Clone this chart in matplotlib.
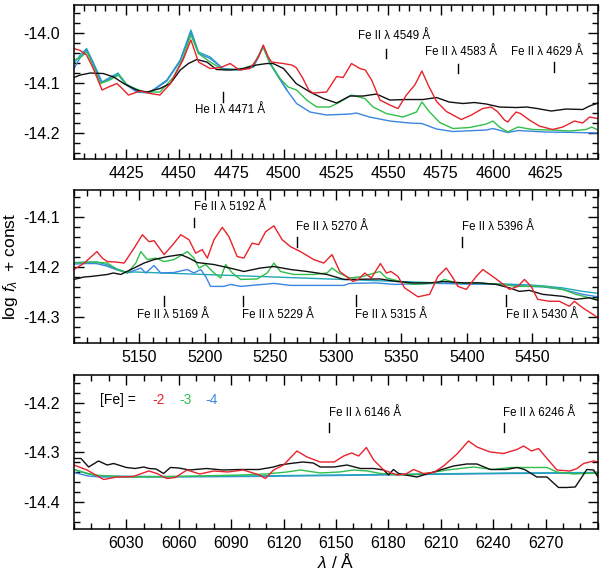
import matplotlib
matplotlib.use("Agg")
import matplotlib.pyplot as plt
from matplotlib.ticker import MultipleLocator

plt.rcParams['font.family'] = ['Liberation Sans', 'DejaVu Sans']
plt.rcParams['mathtext.fontset'] = 'custom'
plt.rcParams['mathtext.rm'] = 'Liberation Sans'
plt.rcParams['mathtext.it'] = 'Liberation Sans:italic'
plt.rcParams['axes.unicode_minus'] = False

RED = '#e8232b'
GREEN = '#2fbf4a'
BLUE = '#3a86e0'
TEAL = '#1fa9b8'
BLACK = '#111111'

# ---------------- panel 1 (4400 - 4650) ----------------
p1_red_wl = [4400, 4403, 4406, 4409, 4413.4, 4417, 4420.5, 4423, 4426, 4431.6, 4436.4, 4441, 4446,
             4452, 4455.8, 4459.4, 4465, 4470, 4474.5, 4479, 4484, 4488, 4490.3, 4492.7, 4494.3,
             4499.9, 4503.9, 4506, 4509, 4512, 4514, 4520.5, 4525.3, 4528.4, 4532.4, 4536.4, 4539,
             4542, 4546, 4550.7, 4554.6, 4558.6, 4562.6, 4566, 4569, 4573, 4577.7, 4584.8, 4589.6,
             4595, 4599, 4602, 4605.4, 4607, 4609, 4611, 4613, 4617.3, 4622, 4628.4, 4633.2,
             4638.8, 4642.7, 4646, 4650]
p1_red = [-14.032, -14.036, -14.045, -14.07, -14.115, -14.108, -14.102, -14.112, -14.125, -14.117,
          -14.122, -14.125, -14.102, -14.055, -14.015, -14.059, -14.072, -14.07, -14.062, -14.075,
          -14.072, -14.049, -14.025, -14.049, -14.059, -14.062, -14.065, -14.07, -14.09, -14.115,
          -14.121, -14.119, -14.088, -14.09, -14.062, -14.072, -14.075, -14.095, -14.135, -14.145,
          -14.152, -14.125, -14.105, -14.077, -14.105, -14.138, -14.158, -14.174, -14.165, -14.152,
          -14.149, -14.158, -14.175, -14.179, -14.168, -14.159, -14.162, -14.175, -14.187, -14.194,
          -14.189, -14.177, -14.181, -14.169, -14.172]

p1_black_wl = [4400, 4403, 4407.8, 4414, 4419, 4423.7, 4430, 4434.8, 4441, 4446, 4450.7, 4454.6,
               4458.6, 4463.4, 4468, 4474.5, 4480.8, 4487, 4492, 4495, 4500, 4506, 4512.6, 4519,
               4525.3, 4531.6, 4538, 4544.3, 4550.7, 4558.6, 4566.5, 4573, 4579, 4585.6, 4591,
               4596.7, 4603, 4611, 4616, 4621, 4627.7, 4634.8, 4642.7, 4646, 4650]
p1_black = [-14.09, -14.085, -14.081, -14.082, -14.089, -14.102, -14.115, -14.119, -14.112, -14.102,
            -14.075, -14.062, -14.054, -14.059, -14.074, -14.075, -14.072, -14.065, -14.062, -14.062,
            -14.072, -14.102, -14.119, -14.132, -14.141, -14.127, -14.127, -14.123, -14.135, -14.134,
            -14.134, -14.13, -14.139, -14.142, -14.14, -14.143, -14.149, -14.15, -14.149, -14.152,
            -14.157, -14.153, -14.154, -14.147, -14.141]

p1_green_wl = [4400, 4403, 4406.2, 4409, 4412.6, 4417, 4421.3, 4425.3, 4433.2, 4441, 4447.5, 4452.2,
               4455.8, 4459.4, 4465, 4471, 4479, 4485.6, 4490.3, 4493.5, 4498.3, 4502.2, 4506.2, 4511,
               4515.8, 4522, 4526.9, 4532.4, 4538.8, 4542.7, 4549, 4557, 4563.4, 4566, 4569.7,
               4574.5, 4580.8, 4588.8, 4596.7, 4599.9, 4603, 4607, 4611.8, 4618.9, 4628, 4636.4,
               4644.3, 4647, 4650]
p1_green = [-14.055, -14.05, -14.039, -14.065, -14.102, -14.095, -14.085, -14.105, -14.119, -14.119,
            -14.089, -14.049, -14.005, -14.042, -14.059, -14.074, -14.074, -14.065, -14.029, -14.062,
            -14.092, -14.109, -14.115, -14.135, -14.149, -14.149, -14.139, -14.125, -14.132, -14.149,
            -14.162, -14.169, -14.159, -14.139, -14.159, -14.18, -14.192, -14.19, -14.183, -14.177,
            -14.189, -14.199, -14.189, -14.194, -14.195, -14.197, -14.194, -14.189, -14.195]

p1_blue_wl = [4400, 4403, 4406, 4409, 4413, 4417, 4421, 4425, 4430, 4436, 4444.3, 4450.7, 4455.8,
              4459.4, 4465, 4471, 4479, 4485.6, 4490.3, 4493.5, 4497.5, 4501.5, 4506.2, 4512.6,
              4520.5, 4531.6, 4534.8, 4541, 4550.7, 4560, 4566, 4573, 4580.8, 4596.7, 4599.9, 4607,
              4612, 4625, 4640, 4650]
p1_blue = [-14.072, -14.05, -14.035, -14.06, -14.1, -14.093, -14.084, -14.105, -14.119, -14.121,
           -14.097, -14.057, -14.0, -14.042, -14.052, -14.072, -14.075, -14.069, -14.029, -14.062,
           -14.089, -14.115, -14.142, -14.159, -14.165, -14.163, -14.161, -14.169, -14.177, -14.181,
           -14.182, -14.193, -14.198, -14.195, -14.192, -14.2, -14.196, -14.199, -14.2, -14.201]

p1_teal_wl = [4400, 4403, 4406, 4409, 4413.4, 4417, 4421, 4425, 4430, 4436, 4444.3, 4450.7, 4455.8,
              4459.4, 4465, 4471, 4479, 4485.6, 4490.3, 4493.5, 4497.5, 4501.5]
p1_teal = [-14.062, -14.045, -14.032, -14.058, -14.099, -14.09, -14.081, -14.103, -14.118, -14.12,
           -14.095, -14.055, -13.995, -14.039, -14.049, -14.072, -14.075, -14.069, -14.027, -14.06,
           -14.087, -14.114]

# ---------------- panel 2 (5100 - 5500) ----------------
p2_red_wl = [5100, 5107.8, 5117.5, 5122, 5125.5, 5132, 5138.3, 5145.9, 5152.2, 5157.3, 5161.1, 5168.8,
             5176.4, 5181.5, 5187.8, 5192.9, 5197.9, 5201.8, 5206.9, 5213.2, 5218.3, 5224.6, 5229.7,
             5236, 5241, 5246.3, 5252.6, 5258.9, 5265.3, 5272.9, 5283, 5290.7, 5297, 5302.9, 5308,
             5313, 5317, 5322, 5327, 5333.9, 5338.5, 5342, 5347.3, 5352.4, 5362.6, 5371.5, 5377.8,
             5384.2, 5389.3, 5393.1, 5399.5, 5407.1, 5412.1, 5419.7, 5424.8, 5432.5, 5438.8, 5443.9,
             5449, 5454, 5463, 5470.5, 5478.2, 5482, 5488.3, 5496, 5500]
p2_red = [-14.205, -14.192, -14.169, -14.183, -14.189, -14.19, -14.192, -14.162, -14.135, -14.149,
          -14.147, -14.175, -14.152, -14.135, -14.145, -14.172, -14.165, -14.182, -14.145, -14.12,
          -14.139, -14.179, -14.182, -14.152, -14.155, -14.129, -14.117, -14.145, -14.159, -14.169,
          -14.185, -14.192, -14.175, -14.209, -14.219, -14.229, -14.225, -14.212, -14.222, -14.193,
          -14.212, -14.209, -14.219, -14.242, -14.26, -14.255, -14.219, -14.202, -14.222, -14.239,
          -14.245, -14.219, -14.205, -14.219, -14.229, -14.245, -14.239, -14.225, -14.239, -14.265,
          -14.269, -14.269, -14.279, -14.269, -14.282, -14.295, -14.302]

p2_black_wl = [5100, 5107.8, 5113, 5125.5, 5130, 5135.7, 5145.9, 5153.5, 5161.1, 5171.3, 5181.5,
               5187.8, 5194.1, 5206.9, 5222.1, 5229.7, 5242.4, 5252.6, 5265.3, 5278, 5293.2, 5306,
               5310.5, 5333.4, 5346, 5359, 5371.5, 5381.7, 5397, 5409.7, 5422.3, 5432.5, 5440,
               5447.6, 5457.8, 5473, 5483.2, 5493.4, 5500]
p2_black = [-14.225, -14.22, -14.219, -14.215, -14.212, -14.215, -14.202, -14.192, -14.185, -14.179,
            -14.175, -14.182, -14.191, -14.195, -14.204, -14.209, -14.202, -14.199, -14.205, -14.209,
            -14.215, -14.225, -14.225, -14.224, -14.229, -14.232, -14.232, -14.229, -14.232, -14.232,
            -14.235, -14.242, -14.249, -14.247, -14.255, -14.259, -14.265, -14.262, -14.267]

p2_green_wl = [5100, 5115, 5125.5, 5133, 5140.8, 5147.2, 5151, 5156, 5162.4, 5168.8, 5176.4, 5186.5,
               5191.6, 5195.4, 5200.5, 5206.9, 5212, 5215.8, 5220.9, 5227.2, 5239.9, 5247.5, 5252.6,
               5257.7, 5267.8, 5283, 5293.2, 5297, 5302.1, 5310.5, 5320.7, 5333.4, 5338.5, 5346,
               5359, 5376.8, 5382.9, 5391.8, 5407.1, 5427.4, 5437.5, 5457.8, 5473, 5483.2, 5493.4,
               5500]
p2_green = [-14.192, -14.19, -14.192, -14.205, -14.212, -14.192, -14.169, -14.185, -14.182, -14.189,
            -14.185, -14.169, -14.182, -14.202, -14.195, -14.212, -14.222, -14.195, -14.212, -14.225,
            -14.224, -14.212, -14.192, -14.209, -14.215, -14.215, -14.212, -14.202, -14.212, -14.222,
            -14.219, -14.209, -14.222, -14.227, -14.235, -14.232, -14.225, -14.232, -14.232, -14.235,
            -14.239, -14.239, -14.245, -14.255, -14.262, -14.265]

p2_blue_wl = [5100, 5110, 5117, 5125, 5133, 5140.8, 5146, 5151, 5154.8, 5161.1, 5166.2, 5176.4,
              5186.5, 5191.6, 5196.7, 5200.5, 5204.3, 5214.5, 5219.6, 5227.2, 5252.6, 5265.3, 5306,
              5310.5, 5330, 5345, 5376, 5427, 5447, 5457.8, 5473, 5488.3, 5500]
p2_blue = [-14.194, -14.193, -14.193, -14.198, -14.206, -14.212, -14.207, -14.202, -14.212, -14.197,
           -14.212, -14.211, -14.205, -14.212, -14.205, -14.219, -14.239, -14.239, -14.235, -14.239,
           -14.233, -14.237, -14.237, -14.233, -14.232, -14.235, -14.233, -14.235, -14.239, -14.24,
           -14.245, -14.255, -14.26]

p2_teal_wl = [5100, 5110, 5117, 5125, 5133, 5140.8, 5146, 5400, 5427, 5447, 5457.8, 5473, 5488.3, 5500]
p2_teal = [-14.191, -14.19, -14.19, -14.195, -14.204, -14.211, -14.21, -14.234, -14.234, -14.236,
           -14.238, -14.242, -14.249, -14.253]

# ---------------- panel 3 (6000 - 6300) ----------------
p3_red_wl = [6000, 6007.4, 6017, 6024.6, 6034, 6042.8, 6047.5, 6053.2, 6058, 6064.7, 6072, 6080,
             6088, 6097, 6106, 6109.6, 6114.3, 6120, 6127.6, 6133.4, 6141, 6149, 6154.4, 6159, 6163,
             6167.4, 6171.6, 6177.3, 6184.9, 6190, 6194.5, 6200, 6206, 6211.6, 6219.3, 6225.9,
             6230.7, 6238.3, 6246, 6253.6, 6257.4, 6262, 6266, 6270.8, 6276.5, 6284, 6288,
             6291.8, 6297.5, 6300]
p3_red = [-14.325, -14.335, -14.354, -14.349, -14.348, -14.337, -14.342, -14.352, -14.35, -14.335,
          -14.343, -14.337, -14.339, -14.335, -14.345, -14.352, -14.335, -14.325, -14.297, -14.309,
          -14.319, -14.319, -14.307, -14.301, -14.307, -14.29, -14.315, -14.335, -14.345, -14.343,
          -14.334, -14.342, -14.34, -14.327, -14.303, -14.277, -14.289, -14.299, -14.302, -14.294,
          -14.287, -14.297, -14.292, -14.312, -14.335, -14.337, -14.332, -14.322, -14.317, -14.319]

p3_black_wl = [6000, 6004, 6008.4, 6014, 6019, 6022.7, 6030, 6035, 6040, 6043, 6047, 6051.3, 6055.2,
               6060, 6066, 6076, 6085, 6095, 6106, 6114.3, 6118, 6123.9, 6131, 6137, 6141, 6149,
               6156.3, 6164, 6171.6, 6177.3, 6180.1, 6182.9, 6185.8, 6190, 6196.3, 6202, 6207.8,
               6217.3, 6224.9, 6230.7, 6238.3, 6247.8, 6253.6, 6258, 6265, 6270.8, 6277.4, 6282,
               6287, 6290.8, 6293.6, 6297.5, 6300]
p3_black = [-14.312, -14.312, -14.329, -14.317, -14.325, -14.322, -14.33, -14.332, -14.329, -14.332,
            -14.333, -14.342, -14.33, -14.331, -14.335, -14.332, -14.335, -14.334, -14.334, -14.329,
            -14.325, -14.322, -14.319, -14.321, -14.329, -14.329, -14.325, -14.332, -14.332, -14.335,
            -14.345, -14.334, -14.342, -14.345, -14.349, -14.343, -14.337, -14.327, -14.323, -14.323,
            -14.334, -14.334, -14.33, -14.334, -14.349, -14.349, -14.37, -14.37, -14.369, -14.349,
            -14.334, -14.335, -14.349]

p3_green_wl = [6000, 6011.3, 6030, 6060, 6095, 6110, 6122, 6129.6, 6141, 6152, 6160, 6168, 6175.4,
               6187, 6200, 6213.5, 6228.8, 6240, 6249.8, 6260, 6270.8, 6276.5, 6286, 6300]
p3_green = [-14.334, -14.345, -14.349, -14.348, -14.345, -14.343, -14.339, -14.335, -14.341, -14.339,
            -14.335, -14.337, -14.342, -14.345, -14.343, -14.335, -14.329, -14.334, -14.33, -14.33,
            -14.33, -14.339, -14.343, -14.341]

p3_blue_wl = [6000, 6008, 6015, 6050, 6100, 6150, 6200, 6250, 6300]
p3_blue = [-14.34, -14.347, -14.349, -14.349, -14.348, -14.346, -14.344, -14.342, -14.341]

p3_teal_wl = [6000, 6008, 6015, 6050, 6100, 6150, 6200, 6250, 6300]
p3_teal = [-14.334, -14.343, -14.347, -14.348, -14.347, -14.345, -14.343, -14.341, -14.34]

# line identifications: (wavelength, label, tick bottom, tick top, text x, text y)
p1_marks = [(4471, 'He I λ 4471 Å', -14.139, -14.119, 4474.5, -14.155),
            (4549, 'Fe II λ 4549 Å', -14.050, -14.032, 4552.5, -14.007),
            (4583, 'Fe II λ 4583 Å', -14.080, -14.062, 4584.5, -14.039),
            (4629, 'Fe II λ 4629 Å', -14.079, -14.059, 4625.5, -14.039)]
p2_marks = [(5192, 'Fe II λ 5192 Å', -14.120, -14.102, 5219, -14.079),
            (5270, 'Fe II λ 5270 Å', -14.159, -14.139, 5297, -14.120),
            (5396, 'Fe II λ 5396 Å', -14.160, -14.139, 5423.5, -14.119),
            (5169, 'Fe II λ 5169 Å', -14.279, -14.259, 5175.5, -14.297),
            (5229, 'Fe II λ 5229 Å', -14.279, -14.259, 5256, -14.297),
            (5315, 'Fe II λ 5315 Å', -14.279, -14.257, 5342, -14.297),
            (5430, 'Fe II λ 5430 Å', -14.279, -14.257, 5457, -14.297)]
p3_marks = [(6146, 'Fe II λ 6146 Å', -14.260, -14.241, 6166.5, -14.221),
            (6246, 'Fe II λ 6246 Å', -14.260, -14.241, 6266.5, -14.221)]

metallicities = ['-2', '-3', '-4']


fig = plt.figure(figsize=(6, 5.72), dpi=100)

panels = [
    dict(rect=[0.1233, 0.722, 0.8733, 0.2692], xlim=(4400, 4650), ylim=(-14.253, -13.945),
         major=25, minor=5, first=4425,
         lines=[(p1_teal_wl, p1_teal, TEAL), (p1_blue_wl, p1_blue, BLUE), (p1_green_wl, p1_green, GREEN),
                (p1_black_wl, p1_black, BLACK), (p1_red_wl, p1_red, RED)],
         marks=p1_marks),
    dict(rect=[0.1233, 0.4003, 0.8733, 0.2675], xlim=(5100, 5500), ylim=(-14.353, -14.045),
         major=50, minor=10, first=5150,
         lines=[(p2_teal_wl, p2_teal, TEAL), (p2_blue_wl, p2_blue, BLUE), (p2_green_wl, p2_green, GREEN),
                (p2_black_wl, p2_black, BLACK), (p2_red_wl, p2_red, RED)],
         marks=p2_marks),
    dict(rect=[0.1233, 0.0752, 0.8733, 0.2692], xlim=(6000, 6300), ylim=(-14.453, -14.145),
         major=30, minor=10, first=6030,
         lines=[(p3_blue_wl, p3_blue, BLUE), (p3_teal_wl, p3_teal, TEAL), (p3_green_wl, p3_green, GREEN),
                (p3_black_wl, p3_black, BLACK), (p3_red_wl, p3_red, RED)],
         marks=p3_marks),
]

axes = []
for p in panels:
    ax = fig.add_axes(p['rect'])
    for wl, fl, col in p['lines']:
        ax.plot(wl, fl, color=col, lw=1.0)
    for wl, label, y0, y1, tx, ty in p['marks']:
        ax.plot([wl, wl], [y0, y1], color='black', lw=1.0)
        ax.text(tx, ty, label, fontsize=8.3, ha='center', va='center')
    ax.set_xlim(*p['xlim'])
    ax.set_ylim(*p['ylim'])
    ax.set_xticks(list(range(p['first'], int(p['xlim'][1]), p['major'])))
    ax.xaxis.set_minor_locator(MultipleLocator(p['minor']))
    ax.yaxis.set_major_locator(MultipleLocator(0.1))
    ax.yaxis.set_minor_locator(MultipleLocator(0.02))
    ax.yaxis.set_major_formatter(matplotlib.ticker.FormatStrFormatter('%.1f'))
    ax.tick_params(which='both', direction='in', top=True, right=True, width=1.0, labelsize=11.5)
    ax.tick_params(which='major', length=7)
    ax.tick_params(which='minor', length=4)
    ax.tick_params(axis='y', pad=10)
    ax.tick_params(axis='x', pad=5)
    for s in ax.spines.values():
        s.set_linewidth(1.1)
    axes.append(ax)

# metallicity key in the bottom panel
ax3 = axes[2]
ax3.text(6014.7, -14.194, '[Fe] =', fontsize=10, ha='left', va='center')
for label, col, x in zip(metallicities, [RED, GREEN, BLUE], [6048.5, 6064, 6079]):
    ax3.text(x, -14.194, label, fontsize=10, color=col, ha='center', va='center')

fig.text(0.56, 0.0025, r'$\lambda$ / Å', fontsize=12.5, ha='center', va='bottom')
fig.text(0.018, 0.534, r'log $f_\lambda$  + const', rotation=90, fontsize=12.5,
         ha='center', va='center')

fig.savefig('out.png', dpi=100)
